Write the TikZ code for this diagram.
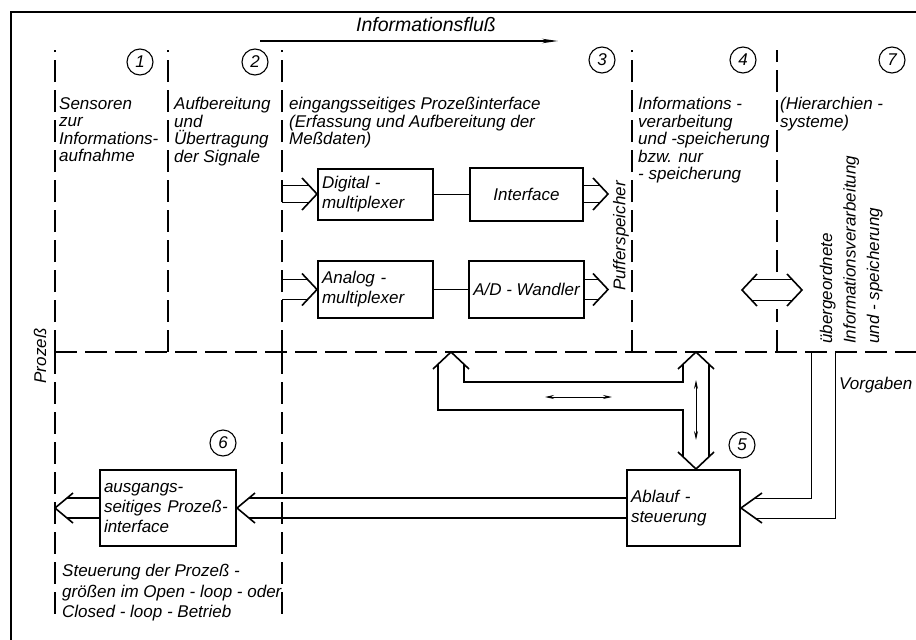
\documentclass[tikz,border=0pt]{standalone}
\usepackage{fontspec}
\setmainfont{Liberation Sans}
\usepackage{tikz}
\usetikzlibrary{positioning,calc,arrows.meta}

\begin{document}
\begin{tikzpicture}[x=1pt,y=-1pt]
\tikzstyle{grenze}=[line width=1.6pt,dash pattern=on 22pt off 8pt]
\tikzstyle{block}=[draw,line width=2pt,inner xsep=4pt,inner ysep=0pt,align=left,font=\itshape\fontsize{17}{20}\selectfont]
\tikzstyle{nummer}=[draw,circle,line width=1.1pt,minimum size=26pt,inner sep=0pt,font=\itshape\fontsize{17}{17}\selectfont]
\tikzstyle{txt}=[inner sep=0pt,align=left,anchor=north west,font=\itshape\fontsize{17}{17.5}\selectfont]
\tikzstyle{bus}=[line width=1.6pt]
\tikzstyle{pfeil}=[line width=1pt,{Stealth[length=9pt,width=4pt]}-{Stealth[length=9pt,width=4pt]}]
    \useasboundingbox (0,0) rectangle (916,640);
    % Rahmen
    \draw[line width=1.5pt] (11,640) -- (11,12) -- (916,12);
    % Informationsfluss
    \node[inner sep=0pt,font=\itshape\fontsize{19.5}{20}\selectfont] (fluss) at (426,25) {Informationsfluß};
    \coordinate (fa) at (260,41);
    \coordinate (fe) at (558,41);
    \draw[line width=1.3pt,-{Stealth[length=16pt,width=4.5pt]}] (fa) -- (fe);
    % Trennlinien
    \draw[grenze] (55,352) -- (55,50);
    \draw[grenze] (55,352) -- (55,620);
    \draw[grenze] (168,352) -- (168,50);
    \draw[grenze] (282,352) -- (282,50);
    \draw[grenze] (282,352) -- (282,620);
    \draw[grenze] (632,352) -- (632,50);
    \draw[grenze] (777,272) -- (777,50);
    \draw[grenze] (777,352) -- (777,309);
    \draw[grenze] (55,352) -- (916,352);
    % Nummern
    \node[nummer] (n1) at (140,62) {1};
    \node[nummer] (n2) at (255,62) {2};
    \node[nummer] (n3) at (602,60) {3};
    \node[nummer] (n4) at (743,60) {4};
    \node[nummer] (n7) at (892,60) {7};
    \node[nummer] (n5) at (742,445) {5};
    \node[nummer] (n6) at (223,443) {6};
    % Spaltentexte
    \node[txt] (sensor) at (59,97) {Sensoren\\zur\\Informations-\\aufnahme};
    \node[txt] (aufber) at (174,97) {Aufbereitung\\und\\Übertragung\\der Signale};
    \node[txt] (eingang) at (289,97) {eingangsseitiges Prozeßinterface\\(Erfassung und Aufbereitung der\\Meßdaten)};
    \node[txt] (verarb) at (638,97) {Informations -\\verarbeitung\\und -speicherung\\bzw. nur\\- speicherung};
    \node[txt] (hierarch) at (780,97) {(Hierarchien -\\systeme)};
    \node[txt,rotate=90,font=\itshape\fontsize{17}{23.5}\selectfont] (uebergeord) at (819.5,344) {übergeordnete\\Informationsverarbeitung\\und - speicherung};
    \node[rotate=90,inner sep=0pt,font=\itshape\fontsize{17}{17}\selectfont] (puffer) at (621,236) {Pufferspeicher};
    \node[rotate=90,inner sep=0pt,font=\itshape\fontsize{17}{17}\selectfont] (prozess) at (40,356) {Prozeß};
    \node[txt,anchor=west] (vorgaben) at (839,385) {Vorgaben};
    \node[txt,font=\itshape\fontsize{17}{20.5}\selectfont] (steuer) at (62,564) {Steuerung der Prozeß -\\größen im Open - loop - oder\\Closed - loop - Betrieb};
    % Kaesten
    \node[block,text width=107pt,minimum height=51pt] (dmux) at (375.5,194) {Digital -\\multiplexer};
    \node[block,minimum width=113pt,minimum height=53pt] (intf) at (526.5,194) {Interface};
    \node[block,text width=107pt,minimum height=57pt] (amux) at (375.5,289.5) {Analog -\\multiplexer};
    \node[block,minimum width=113pt,minimum height=57pt] (adw) at (526.5,289.5) {A/D - Wandler};
    \node[block,text width=105pt,minimum height=76pt] (ablauf) at (683.5,508) {Ablauf -\\steuerung};
    \node[block,text width=128pt,minimum height=76pt] (ausg) at (168,508) {ausgangs-\\seitiges Prozeß-\\interface};
    \draw[line width=1pt] (dmux) -- (intf);
    \draw[line width=1pt] (amux) -- (adw);
    % Eingaenge
    \coordinate (d1) at (282,185.5);
    \coordinate (d2) at (282,202.5);
    \draw[bus] (d1) -- ($(dmux.west)+(-8,-8.5)$);
    \draw[bus] (d2) -- ($(dmux.west)+(-8,8.5)$);
    \draw[bus] ($(dmux.west)+(-15,-16)$) -- (dmux.west) -- ($(dmux.west)+(-15,16)$);
    \coordinate (a1) at (282,279.5);
    \coordinate (a2) at (282,299.5);
    \draw[bus] (a1) -- ($(amux.west)+(-9.4,-10)$);
    \draw[bus] (a2) -- ($(amux.west)+(-9.4,10)$);
    \draw[bus] ($(amux.west)+(-15,-16)$) -- (amux.west) -- ($(amux.west)+(-15,16)$);
    % Ausgaenge zum Pufferspeicher
    \coordinate (iout) at (608,194);
    \draw[bus] ($(intf.east)+(0,-8.5)$) -- ($(iout)+(-8,-8.5)$);
    \draw[bus] ($(intf.east)+(0,8.5)$) -- ($(iout)+(-8,8.5)$);
    \draw[bus] ($(iout)+(-15,-16)$) -- (iout) -- ($(iout)+(-15,16)$);
    \coordinate (aout) at (608,289.5);
    \draw[bus] ($(adw.east)+(0,-10)$) -- ($(aout)+(-9.4,-10)$);
    \draw[bus] ($(adw.east)+(0,10)$) -- ($(aout)+(-9.4,10)$);
    \draw[bus] ($(aout)+(-15,-16)$) -- (aout) -- ($(aout)+(-15,16)$);
    % Doppelpfeil 4 - 7
    \coordinate (hl) at (742,290);
    \coordinate (hr) at (802,290);
    \draw[bus] ($(hl)+(9.8,-10.5)$) -- ($(hr)+(-9.8,-10.5)$);
    \draw[bus] ($(hl)+(9.8,10.5)$) -- ($(hr)+(-9.8,10.5)$);
    \draw[bus] ($(hl)+(15,-16)$) -- (hl) -- ($(hl)+(15,16)$);
    \draw[bus] ($(hr)+(-15,-16)$) -- (hr) -- ($(hr)+(-15,16)$);
    % Bus
    \coordinate (busL) at (451,352);
    \coordinate (busT) at (696,352);
    \coordinate (busB) at (busT |- ablauf.north);
    \draw[bus] ($(busL)+(-13,12.3)$) -- ($(busL)+(-13,58)$) -- ($(busT)+(-13,58)$) -- ($(busB)+(-13,-12.3)$);
    \draw[bus] ($(busL)+(13,12.3)$) -- ($(busL)+(13,30)$) -- ($(busT)+(-13,30)$) -- ($(busT)+(-13,12.3)$);
    \draw[bus] ($(busT)+(13,12.3)$) -- ($(busB)+(13,-12.3)$);
    \draw[bus] ($(busL)+(-18,17)$) -- (busL) -- ($(busL)+(18,17)$);
    \draw[bus] ($(busT)+(-18,17)$) -- (busT) -- ($(busT)+(18,17)$);
    \draw[bus] ($(busB)+(-18,-17)$) -- (busB) -- ($(busB)+(18,-17)$);
    \coordinate (pl) at (545,397);
    \coordinate (pr) at (612,397);
    \draw[pfeil] (pl) -- (pr);
    \coordinate (po) at (696,380);
    \coordinate (pu) at (696,440);
    \draw[pfeil] (po) -- (pu);
    % Vorgaben
    \coordinate (v1) at (811,352);
    \coordinate (v2) at (835,352);
    \draw[line width=1pt] (v1) |- ($(ablauf.east)+(14,-10)$);
    \draw[line width=1pt] (v2) |- ($(ablauf.east)+(14,10)$);
    \draw[bus] ($(ablauf.east)+(21,-15)$) -- (ablauf.east) -- ($(ablauf.east)+(21,15)$);
    % Ausgabe
    \draw[bus] ($(ablauf.west)+(0,-10)$) -- ($(ausg.east)+(12,-10)$);
    \draw[bus] ($(ablauf.west)+(0,10)$) -- ($(ausg.east)+(12,10)$);
    \draw[bus] ($(ausg.east)+(18,-15)$) -- (ausg.east) -- ($(ausg.east)+(18,15)$);
    \coordinate (pout) at (55,508);
    \draw[bus] ($(ausg.west)+(0,-10)$) -- ($(pout)+(12,-10)$);
    \draw[bus] ($(ausg.west)+(0,10)$) -- ($(pout)+(12,10)$);
    \draw[bus] ($(pout)+(18,-15)$) -- (pout) -- ($(pout)+(18,15)$);
  \end{tikzpicture}
\end{document}
